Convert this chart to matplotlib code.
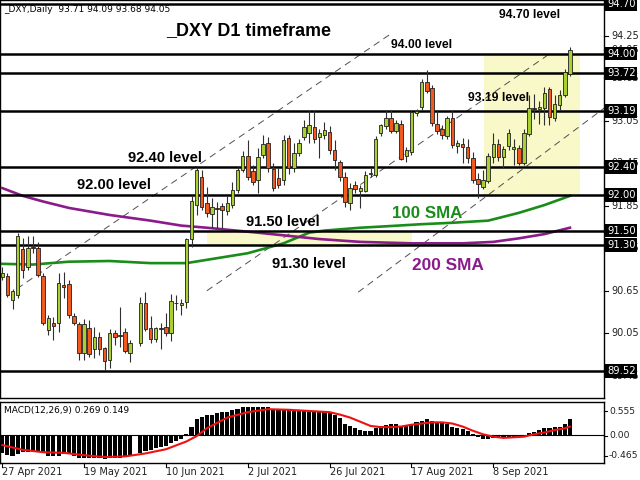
import matplotlib
matplotlib.use("Agg")
import matplotlib.pyplot as plt
import numpy as np

# daily bars from 27 Apr 2021, bar 26 is absent in the feed
opens = [90.84, 90.86, 90.52, 90.59, 91.24, 90.99, 91.27, 91.25, 90.86, 90.10,
         90.19, 90.19, 90.73, 90.75, 90.29, 90.18, 89.77, 90.12, 89.83, 89.99,
         89.84, 89.67, 90.05, 90.02, 90.07, 89.77, None, 89.91, 90.48, 90.12,
         89.97, 90.12, 90.14, 90.05, 90.48, 90.45, 90.49, 91.38, 91.86, 92.26,
         91.89, 91.73, 91.82, 91.84, 91.78, 91.86, 92.07, 92.36, 92.55, 92.34,
         92.21, 92.57, 92.74, 92.37, 92.24, 92.21, 92.81, 92.38, 92.60, 92.82,
         92.88, 92.96, 92.82, 92.85, 92.89, 92.64, 92.47, 92.26, 91.89, 92.14,
         92.06, 92.06, 92.30, 92.29, 92.88, 92.98, 93.09, 92.91, 93.00, 92.55,
         92.61, 93.16, 93.24, 93.60, 93.51, 93.01, 92.94, 92.84, 93.09, 92.70,
         92.72, 92.68, 92.52, 92.23, 92.12, 92.20, 92.54, 92.72, 92.54, 92.69,
         92.65, 92.67, 92.46, 92.87, 93.23, 93.22, 93.23, 93.50, 93.09, 93.27,
         93.41, 93.71]
highs = [90.98, 90.90, 90.68, 91.47, 91.39, 91.42, 91.43, 91.34, 90.90, 90.31,
         90.28, 90.90, 90.91, 90.80, 90.34, 90.21, 90.25, 90.24, 90.14, 90.07,
         89.86, 90.11, 90.09, 90.42, 90.12, 89.95, None, 90.56, 90.63, 90.29,
         90.14, 90.19, 90.34, 90.60, 90.59, 90.53, 91.40, 91.99, 92.40, 92.36,
         92.11, 91.96, 91.90, 91.89, 91.99, 92.19, 92.41, 92.62, 92.78, 92.43,
         92.67, 92.85, 92.82, 92.46, 92.39, 92.85, 92.85, 92.74, 92.80, 93.06,
         93.20, 93.20, 92.94, 93.03, 92.97, 92.78, 92.50, 92.33, 92.17, 92.20,
         92.14, 92.34, 92.38, 92.83, 93.01, 93.20, 93.20, 93.06, 93.06, 92.68,
         93.20, 93.22, 93.64, 93.77, 93.55, 93.20, 92.99, 93.12, 93.20, 92.78,
         92.81, 92.79, 92.61, 92.31, 92.35, 92.59, 92.88, 92.79, 92.70, 92.93,
         92.80, 92.71, 92.93, 93.41, 93.43, 93.33, 93.53, 93.53, 93.41, 93.48,
         93.78, 94.09]
lows = [90.80, 90.56, 90.39, 90.55, 90.83, 90.94, 91.18, 90.84, 90.17, 90.02,
        89.95, 90.07, 90.55, 90.27, 90.17, 89.67, 89.67, 89.72, 89.70, 89.74,
        89.53, 89.56, 89.88, 89.86, 89.77, 89.64, None, 89.87, 90.08, 89.91,
        89.93, 89.83, 90.01, 89.94, 90.38, 90.31, 90.41, 91.27, 91.72, 91.79,
        91.69, 91.54, 91.54, 91.54, 91.72, 91.82, 92.03, 92.33, 92.21, 92.15,
        92.03, 92.52, 92.33, 92.06, 92.10, 92.15, 92.30, 92.33, 92.56, 92.78,
        92.74, 92.74, 92.52, 92.80, 92.58, 92.36, 92.20, 91.83, 91.79, 92.03,
        91.82, 92.04, 92.25, 92.25, 92.84, 92.94, 92.88, 92.88, 92.49, 92.47,
        92.57, 93.12, 93.20, 93.44, 92.98, 92.87, 92.80, 92.80, 92.66, 92.60,
        92.45, 92.45, 92.17, 91.96, 92.08, 92.17, 92.45, 92.48, 92.39, 92.64,
        92.42, 92.43, 92.42, 92.84, 93.08, 93.00, 92.99, 92.99, 93.05, 93.20,
        93.38, 93.68]
closes = [90.90, 90.59, 90.65, 91.42, 90.94, 91.25, 91.26, 90.87, 90.19, 90.27,
          90.15, 90.76, 90.70, 90.31, 90.19, 89.77, 90.18, 89.76, 90.00, 89.83,
          89.66, 90.05, 89.99, 90.01, 89.80, 89.91, None, 90.48, 90.11, 89.97,
          90.12, 90.11, 90.05, 90.51, 90.47, 90.48, 91.38, 91.92, 92.36, 91.83,
          91.75, 91.83, 91.81, 91.79, 91.89, 92.07, 92.36, 92.55, 92.26, 92.19,
          92.54, 92.72, 92.38, 92.10, 92.14, 92.78, 92.38, 92.60, 92.74, 92.96,
          92.99, 92.79, 92.88, 92.92, 92.64, 92.50, 92.26, 91.90, 92.10, 92.09,
          92.10, 92.29, 92.30, 92.79, 92.99, 93.09, 92.91, 93.02, 92.51, 92.64,
          93.17, 93.19, 93.60, 93.47, 93.02, 92.91, 92.85, 93.09, 92.71, 92.74,
          92.68, 92.52, 92.21, 92.16, 92.21, 92.55, 92.72, 92.54, 92.65, 92.88,
          92.68, 92.46, 92.88, 93.23, 93.22, 93.25, 93.44, 93.10, 93.29, 93.41,
          93.74, 94.05]

macd_main = [-0.30, -0.33, -0.35, -0.31, -0.28, -0.27, -0.26, -0.26, -0.28, -0.34,
             -0.35, -0.34, -0.31, -0.31, -0.34, -0.37, -0.38, -0.38, -0.38, -0.38,
             -0.39, -0.38, -0.37, -0.37, -0.35, -0.34, None, -0.30, -0.26, -0.24,
             -0.21, -0.20, -0.17, -0.13, -0.09, -0.06, 0.02, 0.15, 0.28, 0.31,
             0.34, 0.35, 0.37, 0.39, 0.40, 0.43, 0.44, 0.47, 0.47, 0.47,
             0.47, 0.48, 0.47, 0.45, 0.44, 0.44, 0.43, 0.43, 0.43, 0.42,
             0.41, 0.41, 0.40, 0.40, 0.39, 0.34, 0.29, 0.20, 0.16, 0.13,
             0.09, 0.08, 0.08, 0.12, 0.16, 0.18, 0.19, 0.19, 0.16, 0.16,
             0.19, 0.22, 0.24, 0.27, 0.24, 0.23, 0.22, 0.19, 0.15, 0.13,
             0.11, 0.08, 0.02, -0.02, -0.06, -0.06, -0.04, -0.03, -0.02, -0.02,
             -0.04, -0.03, 0.00, 0.04, 0.06, 0.09, 0.12, 0.13, 0.14, 0.15,
             0.19, 0.269]
signal_idx = [0, 4, 8, 12, 16, 20, 24, 28, 32, 36, 38, 40, 44, 48, 52, 56, 60,
              64, 66, 68, 70, 72, 74, 76, 78, 80, 82, 84, 86, 88, 90, 92, 94,
              96, 98, 100, 102, 104, 106, 108, 110, 111]
signal_val = [-0.16, -0.24, -0.28, -0.29, -0.33, -0.36, -0.35, -0.30, -0.23, -0.10,
              -0.01, 0.12, 0.30, 0.39, 0.44, 0.43, 0.41, 0.39, 0.35, 0.30,
              0.23, 0.16, 0.14, 0.14, 0.15, 0.18, 0.20, 0.22, 0.22, 0.20,
              0.15, 0.08, 0.02, -0.02, -0.04, -0.03, -0.02, 0.02, 0.05, 0.09,
              0.12, 0.149]

sma100_idx = [0, 6, 13, 21, 29, 36, 42, 48, 55, 60, 63, 70, 75, 82, 88, 95, 101, 106, 111]
sma100_val = [91.03, 91.02, 91.06, 91.07, 91.04, 91.04, 91.11, 91.18, 91.32, 91.47,
              91.50, 91.54, 91.56, 91.59, 91.61, 91.64, 91.75, 91.86, 91.99]
sma200_idx = [0, 4, 8, 13, 21, 29, 35, 40, 50, 58, 62, 70, 80, 90, 96, 101, 106, 111]
sma200_val = [92.10, 91.99, 91.91, 91.82, 91.72, 91.64, 91.57, 91.54, 91.47, 91.41,
              91.38, 91.34, 91.32, 91.32, 91.34, 91.39, 91.45, 91.54]

levels = [94.70, 94.00, 93.72, 93.19, 92.40, 92.00, 91.50, 91.30, 89.52]
price_ticks = [94.25, 93.65, 93.05, 92.45, 91.85, 91.25, 90.65, 90.05, 89.45]
date_idx = [0, 16, 32, 48, 64, 80, 96]
date_lbl = ["27 Apr 2021", "19 May 2021", "10 Jun 2021", "2 Jul 2021",
            "26 Jul 2021", "17 Aug 2021", "8 Sep 2021"]

# trend channel lines (bar index, price)
channels = [((2.9, 90.68), (76.2, 94.29)),
            ((40.0, 90.65), (107.1, 94.00)),
            ((69.6, 90.63), (117.7, 93.23))]

# shaded zones: (bar from, bar to, price low, price high)
zones = [(94.2, 113.0, 92.00, 94.00),
         (40.0, 80.1, 91.30, 91.50)]

# text objects on the chart: (x px, y px, text, size)
level_notes = [(499, 15, "94.70 level", 8.7), (391, 45, "94.00 level", 8.7),
               (468, 98, "93.19 level", 8.7), (128, 158, "92.40 level", 10.6),
               (77, 185, "92.00 level", 10.6), (246, 222, "91.50 level", 10.6),
               (272, 264, "91.30 level", 10.6)]

BULL = "#a8d030"
BEAR = "#f05a1e"
GREEN = "#1a8c1a"
PURPLE = "#8b1a8b"

o = np.array(opens, dtype=float)
h = np.array(highs, dtype=float)
l = np.array(lows, dtype=float)
c = np.array(closes, dtype=float)
idx = np.arange(len(o))
ok = ~np.isnan(o)

fig = plt.figure(figsize=(6.4, 4.8), dpi=100)


def fx(px):
    return px / 640.0


def fy(py):
    return 1 - py / 480.0


ax = fig.add_axes([fx(0), fy(398), fx(604), 398 / 480.0])
mx = fig.add_axes([fx(0), fy(463), fx(604), 61 / 480.0])

x0, x1 = -2.3 / 5.114, (604 - 2.3) / 5.114
ax.set_xlim(x0, x1)
ax.set_ylim(94.70 - 394 / 70.8, 94.70 + 4 / 70.8)
mx.set_xlim(x0, x1)
mx.set_ylim(-0.46, 0.56)

for a in (ax, mx):
    a.set_xticks([])
    a.set_yticks([])
    for s in a.spines.values():
        s.set_color("black")
        s.set_linewidth(1.0)

# shaded zones
for b0, b1, p0, p1 in zones:
    ax.fill_between([b0, b1], p0, p1, color="#f8f8c8", lw=0, zorder=1)

# dashed channels
for (a0, p0), (a1, p1) in channels:
    ax.plot([a0, a1], [p0, p1], color="#505050", lw=0.7, ls=(0, (7, 5)), zorder=2)

# moving averages
ax.plot(sma100_idx, sma100_val, color=GREEN, lw=1.9, zorder=3)
ax.plot(sma200_idx, sma200_val, color=PURPLE, lw=1.9, zorder=3)

# horizontal levels
for lv in levels:
    ax.axhline(lv, color="black", lw=1.8, zorder=4)

# candles
ax.vlines(idx[ok], l[ok], h[ok], color="#303030", lw=0.8, zorder=5)
bottom = np.minimum(o, c)
height = np.maximum(np.abs(c - o), 0.012)
colors = [BULL if cc >= oo else BEAR for oo, cc in zip(o, c)]
ax.bar(idx[ok], height[ok], bottom=bottom[ok], width=0.68,
       color=np.array(colors)[ok], edgecolor="#202020", linewidth=0.6, zorder=6)

# price axis: ticks, tick labels, then level boxes on top
tr = ax.get_yaxis_transform()
for t in price_ticks + [94.05]:
    ax.plot([1.0, 1.0 + 4 / 604], [t, t], color="black", lw=0.8,
            transform=tr, clip_on=False)
    ax.text(1.0 + 7 / 604, t, "%.2f" % t, transform=tr, fontsize=7,
            va="center", ha="left", color="#202020", clip_on=False)
for lv in levels:
    ax.text(1.0 + 3 / 604, lv, "%.2f" % lv, transform=tr, fontsize=7.2,
            va="center", ha="left", color="white", clip_on=False,
            bbox=dict(boxstyle="square,pad=0.18", fc="black", ec="none"))

# annotations
fig.text(fx(166), fy(31), "_DXY D1 timeframe", fontsize=12.9, va="center",
         family="Liberation Sans", weight="bold", color="black")
for px, py, txt, size in level_notes:
    fig.text(fx(px), fy(py), txt, fontsize=size, va="center",
             family="Liberation Sans", weight="bold", color="black")
fig.text(fx(392), fy(214), "100 SMA", fontsize=12.2, va="center",
         family="Liberation Sans", weight="bold", color=GREEN)
fig.text(fx(412), fy(265), "200 SMA", fontsize=12.4, va="center",
         family="Liberation Sans", weight="bold", color=PURPLE)
fig.text(fx(4), fy(9), "_DXY,Daily  93.71 94.09 93.68 94.05", fontsize=6.5,
         va="center", color="black")

# MACD panel
m = np.array(macd_main, dtype=float)
mok = ~np.isnan(m)
mx.bar(idx[mok], m[mok], width=0.8, color="black", lw=0, zorder=2)
mx.axhline(0, color="black", lw=0.8, zorder=1)
mx.plot(signal_idx, signal_val, color="#ee1111", lw=1.5, zorder=3)
fig.text(fx(4), fy(410), "MACD(12,26,9) 0.269 0.149", fontsize=6.5,
         va="center", color="black")
for txt, py in (("0.555", 411), ("0.00", 436), ("-0.465", 456)):
    fig.text(fx(609), fy(py), txt, fontsize=6.6,
             va="center", ha="left", color="#202020")
    fig.add_artist(plt.Line2D([fx(604), fx(607)], [fy(py), fy(py)],
                              color="black", lw=0.8))

# date axis
for i, lbl in zip(date_idx, date_lbl):
    px = 2.3 + 5.114 * i
    fig.add_artist(plt.Line2D([fx(px), fx(px)], [fy(463), fy(467)],
                              color="black", lw=0.8))
    fig.text(fx(px), fy(472), lbl, fontsize=7, va="center", ha="left",
             color="#202020")

fig.savefig("out.png", dpi=100)
